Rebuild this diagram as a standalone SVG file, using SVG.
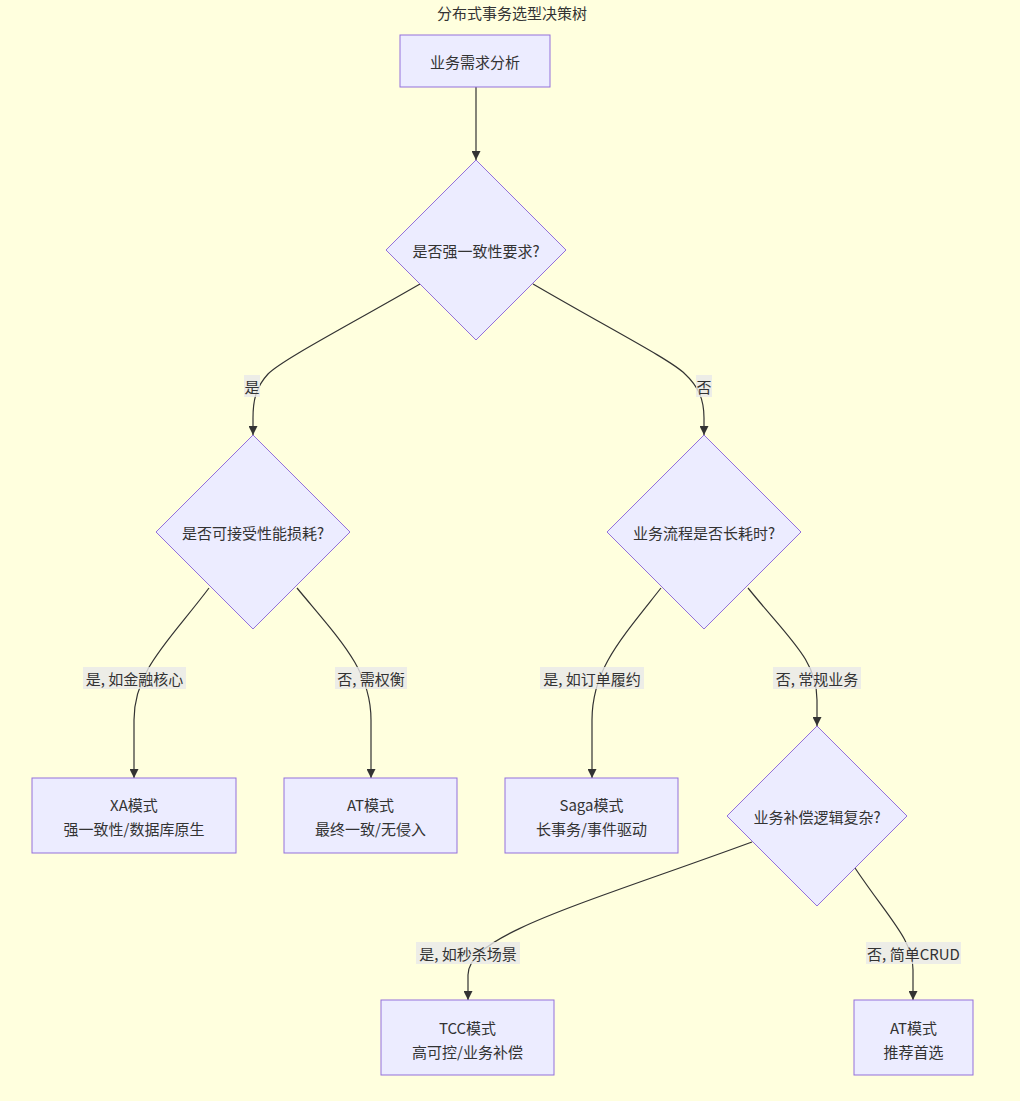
<svg xmlns="http://www.w3.org/2000/svg" width="1020" height="1101" viewBox="0 0 1020 1101">
<defs>
<marker id="arr" viewBox="0 0 10 10" refX="10" refY="5" markerWidth="9" markerHeight="9" markerUnits="userSpaceOnUse" orient="auto">
<path d="M0,0 L10,5 L0,10 z" fill="#333"/>
</marker>
<style>
text{font-family:"Noto Sans CJK SC","Noto Sans",sans-serif;font-size:15px;fill:#333;text-anchor:middle;dominant-baseline:central}
.node rect,.node polygon{fill:#ECECFF;stroke:#9370DB;stroke-width:1}
.edge path{fill:none;stroke:#333;stroke-width:1.2;marker-end:url(#arr)}
.lbl rect{fill:#e8e8e8;fill-opacity:0.8}
</style>
</defs>
<rect width="1020" height="1101" fill="#FFFFDE"/>
<text x="512" y="12">分布式事务选型决策树</text>

<g id="edges" class="edge">
<path d="M476,87 L476,160"/>
<path d="M420,284 C340,330 282,360 268,374 C256,387 253,400 253,418 L253,435"/>
<path d="M533,284 C612,330 671,360 685,374 C699,387 704,400 704,418 L704,435"/>
<path d="M209,588 C170,640 134,670 134,720 L134,778"/>
<path d="M297,588 C340,640 371,670 371,720 L371,778"/>
<path d="M661,588 C620,640 592,670 592,720 L592,778"/>
<path d="M748,588 C790,640 817,660 817,700 L817,726"/>
<path d="M752,842 C580,905 468,935 468,975 L468,1000"/>
<path d="M855,868 C890,920 913,940 913,970 L913,1000"/>
</g>

<g id="edge-labels" class="lbl">
<rect x="244" y="375" width="16" height="22"/><text x="252" y="386">是</text>
<rect x="696" y="375" width="16" height="22"/><text x="704" y="386">否</text>
<rect x="83" y="667" width="103" height="22"/><text x="134.5" y="678">是, 如金融核心</text>
<rect x="335" y="667" width="72" height="22"/><text x="371" y="678">否, 需权衡</text>
<rect x="540" y="667" width="104" height="22"/><text x="592" y="678">是, 如订单履约</text>
<rect x="773" y="667" width="88" height="22"/><text x="817" y="678">否, 常规业务</text>
<rect x="416" y="942" width="104" height="22"/><text x="468" y="953">是, 如秒杀场景</text>
<rect x="866" y="942" width="95" height="22"/><text x="913.5" y="953">否, 简单CRUD</text>
</g>

<g id="A" class="node"><rect x="400" y="35" width="150" height="52"/><text x="475" y="61">业务需求分析</text></g>
<g id="B" class="node"><polygon points="476,160 566,250 476,340 386,250"/><text x="476" y="250">是否强一致性要求?</text></g>
<g id="C" class="node"><polygon points="253,435 350,532 253,629 156,532"/><text x="253" y="532">是否可接受性能损耗?</text></g>
<g id="D" class="node"><polygon points="704,435 801,532 704,629 607,532"/><text x="704" y="532">业务流程是否长耗时?</text></g>
<g id="E" class="node"><rect x="32" y="778" width="204" height="75"/><text x="134" y="804">XA模式</text><text x="134" y="828">强一致性/数据库原生</text></g>
<g id="F" class="node"><rect x="284" y="778" width="173" height="75"/><text x="370.5" y="804">AT模式</text><text x="370.5" y="828">最终一致/无侵入</text></g>
<g id="G" class="node"><rect x="505" y="778" width="173" height="75"/><text x="591.5" y="804">Saga模式</text><text x="591.5" y="828">长事务/事件驱动</text></g>
<g id="H" class="node"><polygon points="817,726 907,816 817,906 727,816"/><text x="817" y="816">业务补偿逻辑复杂?</text></g>
<g id="I" class="node"><rect x="381" y="1000" width="173" height="75"/><text x="467.5" y="1027">TCC模式</text><text x="467.5" y="1051">高可控/业务补偿</text></g>
<g id="J" class="node"><rect x="854" y="1000" width="119" height="75"/><text x="913.5" y="1027">AT模式</text><text x="913.5" y="1051">推荐首选</text></g>
</svg>
